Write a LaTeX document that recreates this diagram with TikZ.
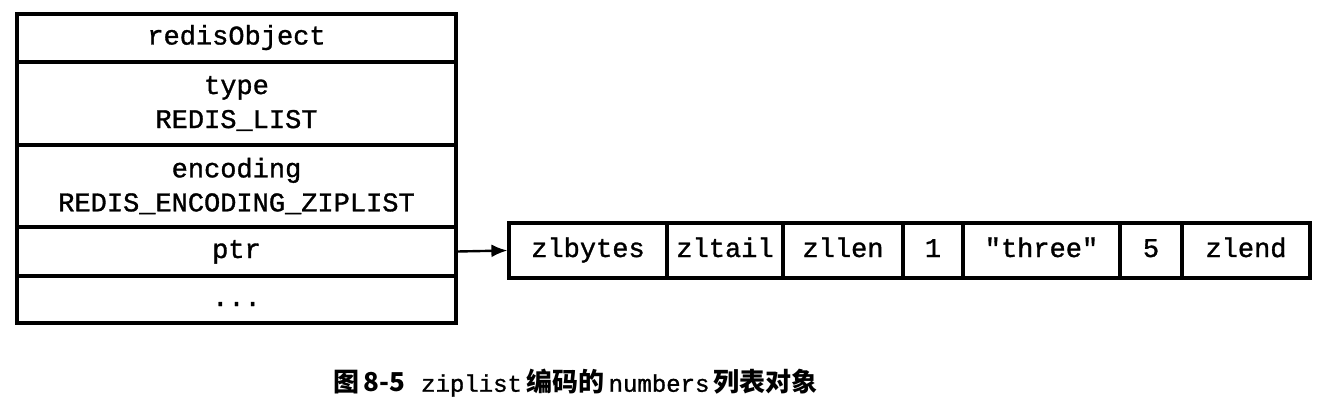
\documentclass[tikz,border=0pt]{standalone}
\usepackage{fontspec}
\setmonofont[FakeBold=1.2]{Liberation Mono}
\newfontfamily\capmono[FakeBold=1.2]{Liberation Mono}
\newfontfamily\cjk{Noto Sans CJK SC}
\usetikzlibrary{arrows.meta}
\tikzset{
  cell/.style={draw=black, line width=3.2pt, inner sep=0pt, align=center,
    font=\fontsize{27}{34}\selectfont\ttfamily},
  onecell/.style={cell, text height=18pt, text depth=5pt},
  ptrarrow/.style={line width=2.4pt, -{Latex[length=16pt,width=13pt]}},
}
\begin{document}
\begin{tikzpicture}[x=1pt,y=-1pt]
\useasboundingbox (0,0) rectangle (1332,406);
% left redisObject table
\node[onecell, minimum width=439pt, minimum height=48pt] (ro) at (236.5,38) {redisObject};
\node[cell, minimum width=439pt, minimum height=83pt] (ty) at (236.5,103.5) {type\\REDIS\_LIST};
\node[cell, minimum width=439pt, minimum height=82pt] (en) at (236.5,186) {encoding\\REDIS\_ENCODING\_ZIPLIST};
\node[onecell, minimum width=439pt, minimum height=49pt] (ptr) at (236.5,251.5) {ptr};
\node[onecell, minimum width=439pt, minimum height=47pt] (dots) at (236.5,299.5) {...};
% ziplist
\node[onecell, minimum width=158pt, minimum height=55pt] (zb) at (588,250.5) {zlbytes};
\node[onecell, minimum width=116pt, minimum height=55pt] (zt) at (725,250.5) {zltail};
\node[onecell, minimum width=120pt, minimum height=55pt] (zl) at (843,250.5) {zllen};
\node[onecell, minimum width=60pt, minimum height=55pt] (e1) at (933,250.5) {1};
\node[onecell, minimum width=157pt, minimum height=55pt] (e2) at (1041.5,250.5) {"three"};
\node[onecell, minimum width=62pt, minimum height=55pt] (e3) at (1151,250.5) {5};
\node[onecell, minimum width=128pt, minimum height=55pt] (ze) at (1246,250.5) {zlend};
\draw[ptrarrow] (ptr.east) -- (zb.west);
% caption
\node[anchor=west, inner sep=0pt] (cap) at (333,383)
  {\cjk\bfseries\fontsize{26}{30}\selectfont 图\,8-5\hspace{16pt}{\fontsize{24}{30}\selectfont\capmono\mdseries ziplist}\,编码的\,{\fontsize{24}{30}\selectfont\capmono\mdseries numbers}\,列表对象};
\end{tikzpicture}
\end{document}
